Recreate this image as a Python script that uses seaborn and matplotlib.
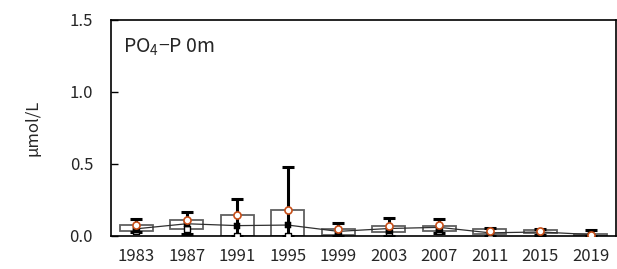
import numpy as np
import pandas as pd
import matplotlib
matplotlib.use("Agg")
import matplotlib.pyplot as plt
import seaborn as sns

# values (umol/L)
years = ["1983", "1987", "1991", "1995", "1999", "2003", "2007", "2011", "2015", "2019"]
mean_vals = [0.076, 0.110, 0.145, 0.178, 0.046, 0.072, 0.075, 0.035, 0.037, 0.008]
box_top = [0.076, 0.112, 0.145, 0.178, 0.046, 0.070, 0.072, 0.046, 0.042, 0.012]
box_bottom = [0.037, 0.050, 0.000, 0.000, 0.005, 0.027, 0.035, 0.014, 0.020, 0.000]
whisk_max = [0.118, 0.170, 0.258, 0.480, 0.092, 0.122, 0.116, 0.055, 0.050, 0.045]
whisk_min = [0.030, 0.012, 0.000, 0.000, 0.000, 0.000, 0.022, 0.000, 0.010, 0.000]
mid_vals = [0.040, 0.080, 0.072, 0.075, 0.012, 0.033, 0.042, 0.020, 0.020, 0.005]
line_vals = [0.050, 0.085, 0.072, 0.076, 0.032, 0.052, 0.060, 0.022, 0.028, 0.010]

sns.set_style("white")
plt.rcParams["font.family"] = ["Noto Sans CJK JP", "DejaVu Sans"]
plt.rcParams["mathtext.fontset"] = "custom"
plt.rcParams["mathtext.rm"] = "Noto Sans CJK JP"
plt.rcParams["mathtext.default"] = "regular"

df = pd.DataFrame({
    "pos": np.arange(len(years)),
    "year": years,
    "mean": mean_vals,
    "top": box_top,
    "bottom": box_bottom,
    "wmax": whisk_max,
    "wmin": whisk_min,
    "mid": mid_vals,
    "line": line_vals,
})

fig = plt.figure(figsize=(6.17, 2.69), dpi=100)
ax = fig.add_axes([0.18, 0.1227, 0.8185, 0.803])

# boxes
ax.bar(df["pos"], df["top"] - df["bottom"], bottom=df["bottom"], width=0.66,
       facecolor="none", edgecolor="#606060", linewidth=1.3, zorder=2)

# thin connecting line
sns.lineplot(data=df, x="pos", y="line", color="#303030", linewidth=0.9,
             ax=ax, zorder=3)

# whiskers
ax.errorbar(df["pos"], df["mid"],
            yerr=[df["mid"] - df["wmin"], df["wmax"] - df["mid"]],
            fmt="none", ecolor="black", elinewidth=2.2, capsize=4,
            capthick=2.2, zorder=4)

# markers
sns.scatterplot(data=df, x="pos", y="bottom", marker="s", s=22,
                facecolor="white", edgecolor="black", linewidth=1.0,
                ax=ax, zorder=5)
sns.scatterplot(data=df, x="pos", y="mid", marker="s", s=20,
                color="black", edgecolor="black", ax=ax, zorder=6)
sns.scatterplot(data=df, x="pos", y="mean", marker="o", s=26,
                facecolor="white", edgecolor="#c8501a", linewidth=1.2,
                ax=ax, zorder=7)

ax.set_xlim(-0.5, len(years) - 0.5)
ax.set_ylim(0, 1.5)
ax.set_xticks(df["pos"])
ax.set_xticklabels(years, fontsize=12)
ax.set_xticks(np.arange(0.5, len(years) - 0.5, 1.0), minor=True)
ax.tick_params(axis="x", which="major", length=0, pad=9)
ax.tick_params(axis="x", which="minor", direction="in", length=6,
               width=1, color="black")
ax.set_yticks([0, 0.5, 1.0, 1.5])
ax.set_yticklabels(["0.0", "0.5", "1.0", "1.5"], fontsize=12)
ax.tick_params(axis="y", direction="in", length=5, width=1, color="black",
               pad=13, left=True)
ax.set_xlabel("")
ax.set_ylabel("μmol/L", fontsize=12, labelpad=20)

for sp in ax.spines.values():
    sp.set_color("black")
    sp.set_linewidth(1.2)

ax.text(0.024, 0.875, "PO$_4$−P 0m", transform=ax.transAxes,
        fontsize=14, va="center", ha="left")

fig.savefig("out.png", dpi=100)
